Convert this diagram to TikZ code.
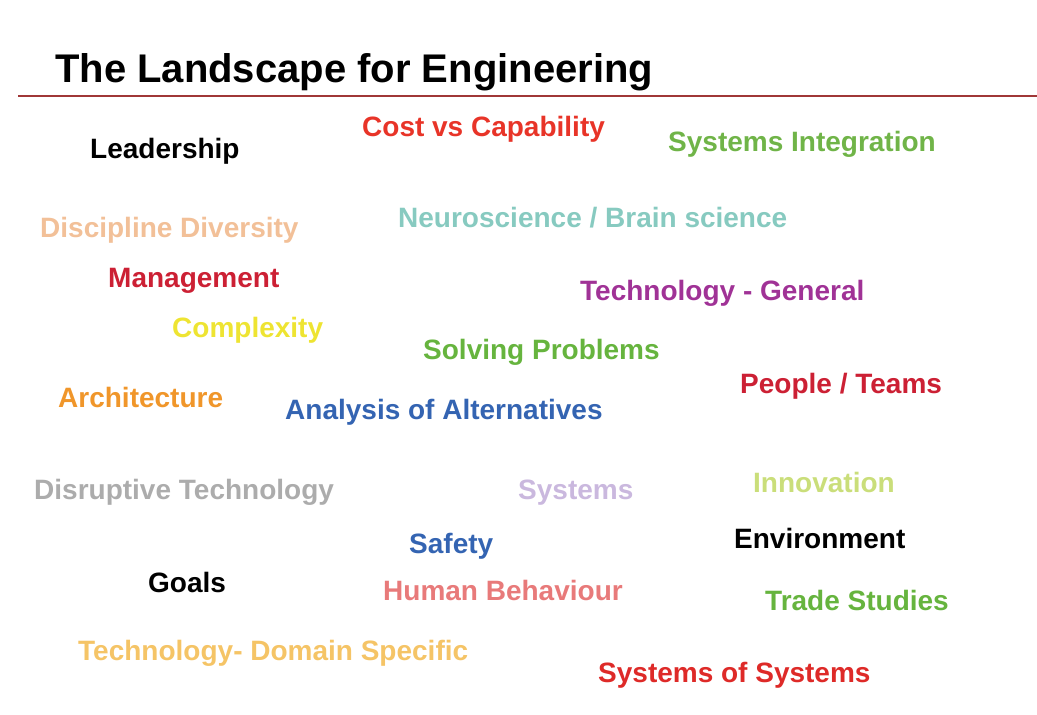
\documentclass[tikz,border=0pt]{standalone}
\usepackage{fontspec}
\setmainfont{Liberation Sans}
\definecolor{rulered}{RGB}{160,55,55}
\definecolor{costred}{RGB}{232,52,40}
\definecolor{intgreen}{RGB}{112,180,72}
\definecolor{peach}{RGB}{242,192,152}
\definecolor{teal}{RGB}{135,202,192}
\definecolor{crimson}{RGB}{204,32,52}
\definecolor{purple}{RGB}{160,50,150}
\definecolor{lemon}{RGB}{238,228,50}
\definecolor{leafgreen}{RGB}{102,180,62}
\definecolor{amber}{RGB}{240,150,42}
\definecolor{steelblue}{RGB}{52,100,178}
\definecolor{ashgrey}{RGB}{172,172,172}
\definecolor{lavender}{RGB}{202,184,222}
\definecolor{olivelight}{RGB}{202,222,122}
\definecolor{rosepink}{RGB}{232,122,122}
\definecolor{sand}{RGB}{245,196,102}
\definecolor{sosred}{RGB}{222,42,40}
\begin{document}
\begin{tikzpicture}[x=1pt,y=-1pt,
    word/.style={anchor=base west,inner sep=0pt,font=\bfseries\fontsize{28}{30}\selectfont}]
      \useasboundingbox (0,0) rectangle (1037,715);
      \node[anchor=base west,inner sep=0pt,font=\bfseries\fontsize{40}{44}\selectfont] (title) at (55,82) {The Landscape for Engineering};
      \coordinate (ruleL) at (18,96);
      \coordinate (ruleR) at (1037,96);
      \draw[rulered,line width=1.2pt] (ruleL) -- (ruleR);
      \node[word,costred] (cost) at (362,136) {Cost vs Capability};
      \node[word,black] (lead) at (90,158) {Leadership};
      \node[word,intgreen] (integ) at (668,151) {Systems Integration};
      \node[word,peach] (disc) at (40,237) {Discipline Diversity};
      \node[word,teal] (neuro) at (398,227) {Neuroscience / Brain science};
      \node[word,crimson] (mgmt) at (108,287) {Management};
      \node[word,purple] (techgen) at (580,300) {Technology - General};
      \node[word,lemon] (cplx) at (172,337) {Complexity};
      \node[word,leafgreen] (solve) at (423,359) {Solving Problems};
      \node[word,crimson] (people) at (740,393) {People / Teams};
      \node[word,amber] (arch) at (58,407) {Architecture};
      \node[word,steelblue] (aoa) at (285,419) {Analysis of Alternatives};
      \node[word,ashgrey] (disrupt) at (34,499) {Disruptive Technology};
      \node[word,lavender] (sys) at (518,499) {Systems};
      \node[word,olivelight] (innov) at (753,492) {Innovation};
      \node[word,steelblue] (safety) at (409,553) {Safety};
      \node[word,black] (env) at (734,548) {Environment};
      \node[word,black] (goals) at (148,592) {Goals};
      \node[word,rosepink] (human) at (383,600) {Human Behaviour};
      \node[word,leafgreen] (trade) at (765,610) {Trade Studies};
      \node[word,sand] (techdom) at (78,660) {Technology- Domain Specific};
      \node[word,sosred] (sos) at (598,682) {Systems of Systems};
    \end{tikzpicture}
\end{document}
